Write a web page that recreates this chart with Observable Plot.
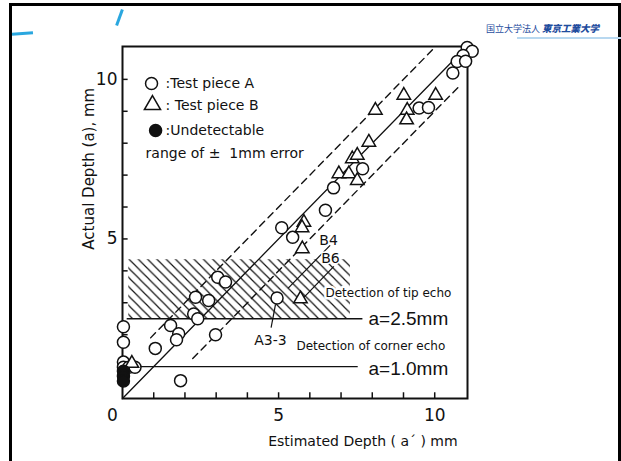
<!DOCTYPE html>
<html><head><meta charset="utf-8">
<script src="https://cdn.jsdelivr.net/npm/d3@7"></script>
<script src="https://cdn.jsdelivr.net/npm/@observablehq/plot@0.6"></script>
<style>
body{margin:0;background:#fff;}
#wrap{position:relative;width:621px;height:461px;overflow:hidden;background:#fff;}
#chart{position:absolute;left:0;top:0;}
.border{position:absolute;left:9px;top:3px;width:606px;height:470px;border:3px solid #000;border-bottom:none;}
.cy1{position:absolute;left:12px;top:32px;width:21px;height:3px;background:#2aa7df;transform:rotate(-4deg);}
.cy2{position:absolute;left:118px;top:9px;width:3px;height:17px;background:#2aa7df;transform:rotate(20deg);}
.jp{position:absolute;left:486px;top:21px;font-family:"Noto Sans CJK JP",sans-serif;font-size:9px;color:#1f4d9e;white-space:nowrap;}
.jp b{font-style:italic;font-weight:900;font-size:9.5px;}
.jpline{position:absolute;left:517px;top:37px;width:104px;height:2px;background:#b8d8f0;}
</style></head><body>
<div id="wrap">
<svg width="0" height="0" style="position:absolute"><defs>
<pattern id="hatch" patternUnits="userSpaceOnUse" width="9.3" height="9.3">
<path d="M-2.3,7 L2.3,11.6 M0,0 L9.3,9.3 M7,-2.3 L11.6,2.3" stroke="#111" stroke-width="1.2"/>
</pattern></defs></svg>
<div id="chart"></div>
<div class="border"></div>
<div class="cy1"></div><div class="cy2"></div>
<div class="jp">国立大学法人 <b>東京工業大学</b></div>
<div class="jpline"></div>
</div>
<script>
// Test piece A (open circles): [estimated a', actual a]
const testA = [
  [11.04, 11.0], [11.2, 10.88], [10.91, 10.75], [10.72, 10.56], [10.99, 10.57], [10.58, 10.2],
  [9.5, 9.1], [9.8, 9.12],
  [7.69, 7.2], [6.76, 6.6], [6.5, 5.9], [5.1, 5.35], [5.45, 5.05],
  [3.05, 3.8], [3.3, 3.65], [2.34, 3.17], [2.76, 3.07], [2.28, 2.65], [2.41, 2.5],
  [1.54, 2.29], [1.8, 2.03], [1.73, 1.84], [2.98, 2.0], [1.05, 1.57], [1.86, 0.56],
  [4.95, 3.15],
  [0.03, 2.25], [0.03, 1.76], [0.03, 1.14], [0.03, 0.98], [0.2, 0.98], [0.4, 0.98]
];
// Test piece B (open triangles)
const testB = [
  [8.1, 9.03], [9.01, 9.5], [10.03, 9.5], [9.12, 9.03], [9.1, 8.73],
  [7.89, 8.03], [7.36, 7.51], [7.52, 7.62], [6.93, 7.04], [7.25, 7.04], [7.52, 6.83],
  [5.81, 5.52], [5.75, 5.35], [5.76, 4.69], [5.7, 3.12], [0.3, 1.1]
];
// Undetectable (filled circles)
const undetectable = [[0.03, 0.85], [0.03, 0.7], [0.03, 0.55]];

const xMinorTicks = [1, 2, 3, 4, 5, 6, 7, 8, 9, 10];
const yMinorTicks = [1, 2, 3, 4, 5, 6, 7, 8, 9, 10];
const xTickLabels = [5, 10];
const yTickLabels = [5, 10];

// reference lines: a = a', a = a' + 1, a = a' - 1
const idealLine = [[0, 0], [10.85, 10.85]];
const upperLine = [[0.9, 1.9], [10.0, 11.0]];
const lowerLine = [[2.25, 1.25], [10.85, 9.85]];
const thresholds = [{y: 2.5, x1: 0.15, x2: 7.7}, {y: 1.0, x1: 0.45, x2: 7.55}];
const tipBand = [{x1: 0.2, x2: 7.3, y1: 2.5, y2: 4.35}];

const legendSymbols = [
  {x: 0.93, y: 9.87, symbol: "circle", fill: "white"},
  {x: 0.96, y: 9.2, symbol: "triangle", fill: "white"},
  {x: 1.06, y: 8.4, symbol: "circle", fill: "#111"}
];
const legendTexts = [
  {x: 1.38, y: 9.87, text: ":Test piece A"},
  {x: 1.38, y: 9.18, text: ": Test piece B"},
  {x: 1.38, y: 8.4, text: ":Undetectable"},
  {x: 0.74, y: 7.68, text: "range of ±  1mm error"}
];
const smallNotes = [
  {x: 6.5, y: 3.29, text: "Detection of tip echo"},
  {x: 5.57, y: 1.63, text: "Detection of corner echo"}
];
const bigNotes = [
  {x: 7.88, y: 2.5, text: "a=2.5mm"},
  {x: 7.88, y: 0.94, text: "a=1.0mm"}
];
const pointNotes = [
  {x: 4.74, y: 1.82, text: "A3-3", anchor: "middle"},
  {x: 6.6, y: 4.95, text: "B4", anchor: "start"},
  {x: 6.66, y: 4.4, text: "B6", anchor: "start"}
];
const leaders = [
  {x1: 4.76, y1: 2.22, x2: 4.9, y2: 2.95},
  {x1: 6.65, y1: 4.8, x2: 5.3, y2: 3.45},
  {x1: 6.77, y1: 4.14, x2: 5.81, y2: 3.17}
];
const axisTitles = [
  {x: 7.7, y: -1.35, text: "Estimated Depth ( a\u00b4 ) mm", rotate: 0, size: 14},
  {x: -1.08, y: 7.2, text: "Actual Depth (a), mm", rotate: -90, size: 15}
];

const F = "'DejaVu Sans', sans-serif";
const chart = Plot.plot({
  width: 621, height: 461,
  marginLeft: 122, marginRight: 154, marginTop: 46, marginBottom: 63,
  x: {domain: [0, 11.05], axis: null},
  y: {domain: [0, 11.03], axis: null},
  style: {fontFamily: F, fontSize: "14px", background: "transparent", overflow: "visible", color: "#111"},
  marks: [
    Plot.rect(tipBand, {x1: "x1", x2: "x2", y1: "y1", y2: "y2", fill: "url(#hatch)"}),
    Plot.line(idealLine, {x: d => d[0], y: d => d[1], stroke: "#111", strokeWidth: 1.3}),
    Plot.line(upperLine, {x: d => d[0], y: d => d[1], stroke: "#111", strokeWidth: 1.4, strokeDasharray: "7,5"}),
    Plot.line(lowerLine, {x: d => d[0], y: d => d[1], stroke: "#111", strokeWidth: 1.4, strokeDasharray: "7,5"}),
    Plot.ruleY(thresholds, {y: "y", x1: "x1", x2: "x2", stroke: "#111", strokeWidth: 1.4}),
    Plot.link(leaders, {x1: "x1", y1: "y1", x2: "x2", y2: "y2", stroke: "#111", strokeWidth: 1.2}),
    Plot.frame({stroke: "#111", strokeWidth: 2}),
    Plot.ruleX(xMinorTicks, {y1: 0, y2: 0.18, stroke: "#111", strokeWidth: 1.5}),
    Plot.ruleY(yMinorTicks, {x1: 0, x2: 0.18, stroke: "#111", strokeWidth: 1.5}),
    Plot.text(xTickLabels, {x: d => d, y: 0, dy: 17, text: d => String(d), fontSize: 17}),
    Plot.text([0], {x: 0, y: 0, dx: -10, dy: 17, text: d => String(d), fontSize: 17}),
    Plot.text(yTickLabels, {x: 0, y: d => d, dx: -5, textAnchor: "end", text: d => String(d), fontSize: 17}),
    Plot.text(axisTitles, {x: "x", y: "y", text: "text", rotate: "rotate", fontSize: "size"}),
    Plot.text(smallNotes, {x: "x", y: "y", text: "text", textAnchor: "start", fontSize: 12, stroke: "white", strokeWidth: 5, fill: "#111"}),
    Plot.text(bigNotes, {x: "x", y: "y", text: "text", textAnchor: "start", fontSize: 19, fontFamily: "'Liberation Sans', sans-serif", stroke: "white", strokeWidth: 4, fill: "#111"}),
    Plot.text(pointNotes, {x: "x", y: "y", text: "text", textAnchor: "anchor", fontSize: 14, stroke: "white", strokeWidth: 3, fill: "#111"}),
    Plot.dot(testA, {x: d => d[0], y: d => d[1], r: 6, stroke: "#111", strokeWidth: 1.5, fill: "white"}),
    Plot.dot(testB, {x: d => d[0], y: d => d[1], r: 5, symbol: "triangle", stroke: "#111", strokeWidth: 1.5, fill: "white"}),
    Plot.dot(undetectable, {x: d => d[0], y: d => d[1], r: 6, fill: "#111", stroke: "#111"}),
    Plot.dot(legendSymbols, {x: "x", y: "y", symbol: "symbol", r: 6, stroke: "#111", strokeWidth: 1.5, fill: "fill"}),
    Plot.text(legendTexts, {x: "x", y: "y", text: "text", textAnchor: "start", fontSize: 14})
  ]
});
document.getElementById("chart").appendChild(chart);
</script>
</body></html>
